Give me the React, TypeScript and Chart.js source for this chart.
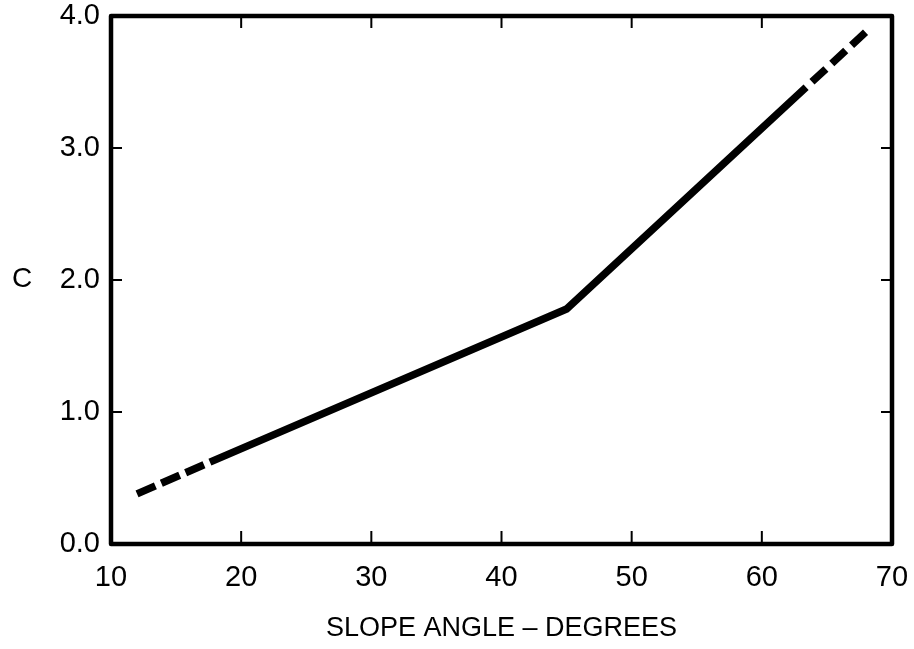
import React, { useEffect, useRef } from "react";
import { Chart, registerables } from "chart.js";

Chart.register(...registerables);

// Data
const leftDashX = [12, 17.6];
const leftDashY = [0.38, 0.62];
const solidX = [17.6, 45, 63.4];
const solidY = [0.62, 1.78, 3.46];
const rightDashX = [63.4, 68];
const rightDashY = [3.46, 3.88];

const xTicks = [10, 20, 30, 40, 50, 60, 70];
const yTicks = [0, 1, 2, 3, 4];
const xTitle = "SLOPE ANGLE – DEGREES";
const yTitle = "C";

const toPts = (xs: number[], ys: number[]) => xs.map((x, i) => ({ x, y: ys[i] }));

const FONT = "'Liberation Sans', Arial, sans-serif";

const framePlugin = {
  id: "frameAndTicks",
  afterDraw(chart: any) {
    const { ctx, chartArea, scales } = chart;
    const { left, right, top, bottom } = chartArea;
    const xs = scales.x;
    const ys = scales.y;
    ctx.save();
    ctx.strokeStyle = "#000";
    // inner tick marks
    ctx.lineWidth = 2;
    ctx.beginPath();
    xTicks.slice(1, -1).forEach((v) => {
      const px = xs.getPixelForValue(v);
      ctx.moveTo(px, bottom);
      ctx.lineTo(px, bottom - 13);
      ctx.moveTo(px, top);
      ctx.lineTo(px, top + 12);
    });
    yTicks.slice(1, -1).forEach((v) => {
      const py = ys.getPixelForValue(v);
      ctx.moveTo(left, py);
      ctx.lineTo(left + 11, py);
      ctx.moveTo(right, py);
      ctx.lineTo(right - 11, py);
    });
    ctx.stroke();
    // frame
    ctx.lineWidth = 4.5;
    ctx.lineJoin = "round";
    ctx.strokeRect(left, top, right - left, bottom - top);
    // horizontal y-axis title
    ctx.fillStyle = "#000";
    ctx.font = `28px ${FONT}`;
    ctx.textAlign = "center";
    ctx.textBaseline = "middle";
    ctx.fillText(yTitle, 22, ys.getPixelForValue(2) - 1);
    ctx.restore();
  },
};

export default function App() {
  const ref = useRef<HTMLCanvasElement | null>(null);
  useEffect(() => {
    if (!ref.current) return;
    const common = {
      borderColor: "#000",
      borderWidth: 7.5,
      pointRadius: 0,
      fill: false,
      tension: 0,
      borderCapStyle: "butt" as const,
      borderJoinStyle: "miter" as const,
    };
    const chart = new Chart(ref.current, {
      type: "line",
      data: {
        datasets: [
          { ...common, data: toPts(leftDashX, leftDashY), borderDash: [20, 6.5] },
          { ...common, data: toPts(solidX, solidY) },
          { ...common, data: toPts(rightDashX, rightDashY), borderDash: [19, 8], borderDashOffset: 19 },
        ],
      },
      options: {
        animation: false,
        responsive: true,
        maintainAspectRatio: false,
        layout: { padding: { left: 0, top: 16, right: 22, bottom: 0 } },
        plugins: { legend: { display: false }, tooltip: { enabled: false } },
        scales: {
          x: {
            type: "linear",
            min: 10,
            max: 70,
            afterFit: (s: any) => {
              s.height = 105;
              s.paddingLeft = 0;
              s.paddingRight = 0;
            },
            afterBuildTicks: (s: any) => {
              s.ticks = xTicks.map((v) => ({ value: v }));
            },
            grid: { display: false, drawTicks: false },
            border: { display: false },
            ticks: {
              color: "#000",
              font: { family: FONT, size: 29 },
              padding: 17,
              maxRotation: 0,
              callback: (v: any) => String(v),
            },
            title: {
              display: true,
              text: xTitle,
              color: "#000",
              font: { family: FONT, size: 27 },
              padding: { top: 0, bottom: 4 },
            },
          },
          y: {
            type: "linear",
            min: 0,
            max: 4,
            afterFit: (s: any) => {
              s.width = 111;
              s.paddingTop = 0;
              s.paddingBottom = 0;
            },
            afterBuildTicks: (s: any) => {
              s.ticks = yTicks.map((v) => ({ value: v }));
            },
            grid: { display: false, drawTicks: false },
            border: { display: false },
            ticks: {
              color: "#000",
              font: { family: FONT, size: 29 },
              padding: 11,
              callback: (v: any) => Number(v).toFixed(1),
            },
          },
        },
      },
      plugins: [framePlugin],
    });
    return () => chart.destroy();
  }, []);
  return (
    <div style={{ position: "absolute", left: 0, top: 0, width: 914, height: 649, background: "#fff" }}>
      <canvas ref={ref} />
    </div>
  );
}
